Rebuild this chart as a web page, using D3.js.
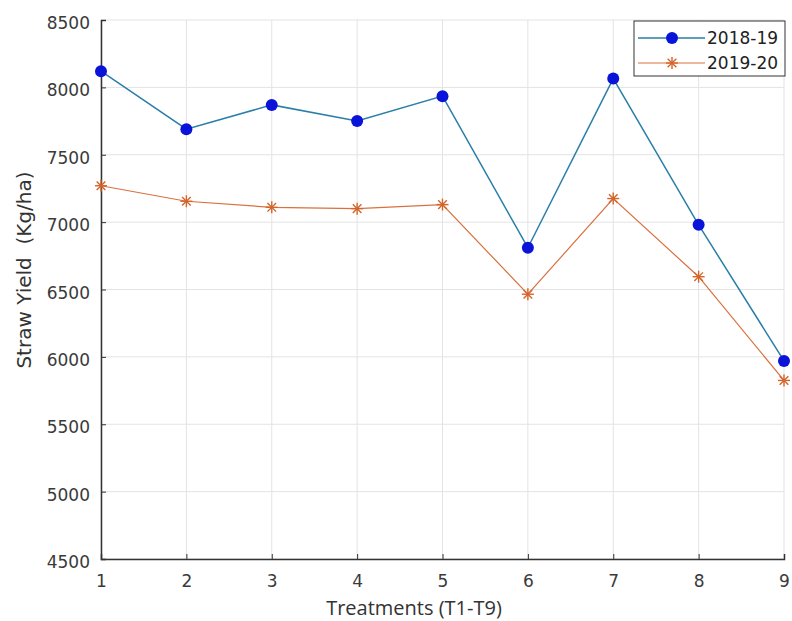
<!DOCTYPE html>
<html><head><meta charset="utf-8">
<script src="https://cdn.jsdelivr.net/npm/d3@7"></script>
<style>body{margin:0;background:#fff}</style>
</head><body>
<svg id="c" width="792" height="621"></svg>
<script>
const treatments = [1,2,3,4,5,6,7,8,9];
const yield2018 = [8120, 7690, 7870, 7750, 7935, 6810, 8065, 6980, 5970];
const yield2019 = [7270, 7155, 7110, 7100, 7130, 6465, 7175, 6595, 5825];
const yTicks = [4500,5000,5500,6000,6500,7000,7500,8000,8500];
const seriesNames = ["2018-19","2019-20"];

const svg = d3.select("#c");
const m = {l:101, r:784, t:20, b:559};
const x = d3.scaleLinear().domain([1,9]).range([m.l, m.r]);
const y = d3.scaleLinear().domain([4500,8500]).range([m.b, m.t]);
const font = "DejaVu Sans, sans-serif";

// grid
const g = svg.append("g");
g.selectAll("line.gx").data(treatments).enter().append("line")
 .attr("x1", d=>x(d)).attr("x2", d=>x(d)).attr("y1", m.t).attr("y2", m.b)
 .attr("stroke", "#e3e3e3").attr("stroke-width",1);
g.selectAll("line.gy").data(yTicks).enter().append("line")
 .attr("x1", m.l).attr("x2", m.r).attr("y1", d=>y(d)).attr("y2", d=>y(d))
 .attr("stroke", "#e3e3e3").attr("stroke-width",1);

// axes
const xa = svg.append("g").attr("transform",`translate(0,${m.b})`)
 .call(d3.axisBottom(x).tickValues(treatments).tickSize(-5).tickPadding(16).tickFormat(d3.format("d")));
const ya = svg.append("g").attr("transform",`translate(${m.l},0)`)
 .call(d3.axisLeft(y).tickValues(yTicks).tickSize(-5).tickPadding(11).tickFormat(d3.format("d")));
[xa,ya].forEach(a=>{
  a.select(".domain").attr("stroke","#333").attr("stroke-width",1.5);
  a.selectAll(".tick line").attr("stroke","#333");
  a.selectAll(".tick text").attr("fill","#3a3a3a").style("font-family",font).style("font-size","17px");
});
ya.selectAll(".tick text").attr("dy","0.5em");

// lines
const line = d3.line().x((d,i)=>x(treatments[i])).y(d=>y(d));
svg.append("path").datum(yield2018).attr("d", line).attr("fill","none")
 .attr("stroke","#2a7fa8").attr("stroke-width",1.5);
svg.append("path").datum(yield2019).attr("d", line).attr("fill","none")
 .attr("stroke","#d9703e").attr("stroke-width",1.2);

svg.selectAll("circle.p").data(yield2018).enter().append("circle")
 .attr("cx",(d,i)=>x(treatments[i])).attr("cy", d=>y(d)).attr("r",6)
 .attr("fill","#0a14d8");

const star = (sel, cx, cy, r) => {
  const gg = sel.append("g").attr("transform",`translate(${cx},${cy})`)
    .attr("stroke","#d2652a").attr("stroke-width",1.4);
  gg.append("line").attr("x1",-r).attr("x2",r).attr("y1",0).attr("y2",0);
  gg.append("line").attr("x1",0).attr("x2",0).attr("y1",-r).attr("y2",r);
  const k = r*0.72;
  gg.append("line").attr("x1",-k).attr("x2",k).attr("y1",-k).attr("y2",k);
  gg.append("line").attr("x1",-k).attr("x2",k).attr("y1",k).attr("y2",-k);
};
yield2019.forEach((d,i)=>star(svg, x(treatments[i]), y(d), 6));

// axis titles
svg.append("text").attr("x", 414).attr("y", 615).attr("text-anchor","middle")
 .style("font-family","Open Sans, sans-serif").style("font-size","20px").attr("fill","#333")
 .text("Treatments (T1-T9)");
svg.append("text").attr("transform","translate(31,270) rotate(-90)").attr("text-anchor","middle")
 .style("font-family",font).style("font-size","20px").attr("fill","#333")
 .attr("xml:space","preserve").style("white-space","pre")
 .text("Straw Yield  (Kg/ha)");

// legend
const lg = svg.append("g");
lg.append("rect").attr("x",634).attr("y",21).attr("width",151).attr("height",55)
 .attr("fill","#fff").attr("stroke","#333").attr("stroke-width",1);
const ly = [38, 63];
lg.append("line").attr("x1",638).attr("x2",705).attr("y1",ly[0]).attr("y2",ly[0]).attr("stroke","#2a7fa8").attr("stroke-width",1.5);
lg.append("circle").attr("cx",672).attr("cy",ly[0]).attr("r",6).attr("fill","#0a14d8");
lg.append("line").attr("x1",638).attr("x2",705).attr("y1",ly[1]).attr("y2",ly[1]).attr("stroke","#d9703e").attr("stroke-width",1.2);
star(lg, 672, ly[1], 6);
seriesNames.forEach((n,i)=>lg.append("text").attr("x",707).attr("y",ly[i]+6)
 .style("font-family",font).style("font-size","17px").attr("fill","#222").text(n));
</script>
</body></html>
